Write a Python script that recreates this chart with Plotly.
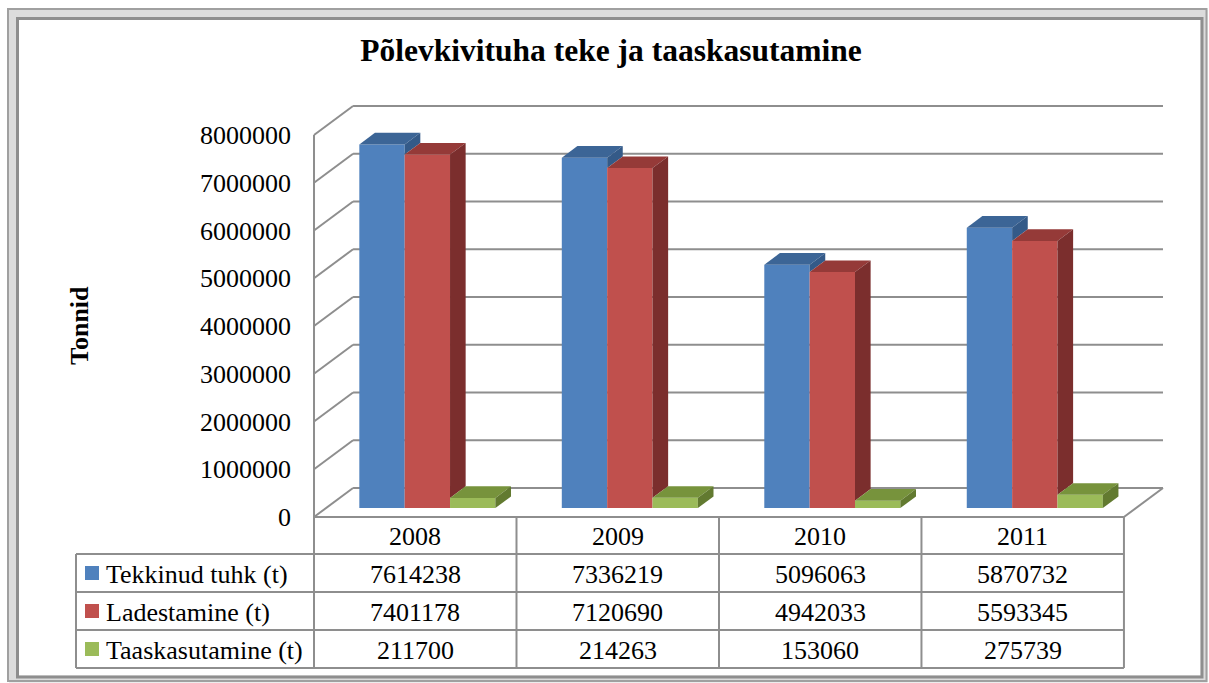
import plotly.graph_objects as go

# ---------------- data ----------------
years = ["2008", "2009", "2010", "2011"]
series_names = ["Tekkinud tuhk (t)", "Ladestamine (t)", "Taaskasutamine (t)"]
tekkinud = [7614238, 7336219, 5096063, 5870732]
ladestamine = [7401178, 7120690, 4942033, 5593345]
taaskasutamine = [211700, 214263, 153060, 275739]
y_ticks = [0, 1000000, 2000000, 3000000, 4000000, 5000000, 6000000, 7000000, 8000000]
chart_title = "Põlevkivituha teke ja taaskasutamine"
y_title = "Tonnid"

series_values = [tekkinud, ladestamine, taaskasutamine]

# ---------------- styles ----------------
FONT = "Liberation Serif"
front_colors = ["#4F81BD", "#C0504D", "#9BBB59"]
top_colors = ["#3C6596", "#953A38", "#77933C"]
side_colors = ["#345A88", "#7B2E2D", "#627A30"]
GRID = "#8E8E8E"

W, H = 1209, 683
# pixel geometry of the pseudo-3D box
PX_PER_CAT = 202.25
PX_PER_VAL = 47.75e-6
PAD = 6
DX = 39 / PX_PER_CAT          # depth shift in x units
DY = 29 / PX_PER_VAL          # depth shift in value units
F0 = 0.31                     # depth position of bar fronts
FB = 0.40                     # bar depth fraction
GROUP = 0.672
BW = GROUP / 3
ncat = len(years)
xpad = PAD / PX_PER_CAT
ypad = PAD / PX_PER_VAL
xr = [-xpad, ncat + DX + xpad]
yr = [-ypad, y_ticks[-1] + DY + ypad]

ML, MR, MT, MB = 314 - PAD, W - 1163 - PAD, 106 - PAD, H - 517 - PAD
PW, PH = W - ML - MR, H - MT - MB


def pxx(px):
    return (px - ML) / PW


def pxy(py):
    return (H - MB - py) / PH


def datx_to_paper(xd):
    return (xd - xr[0]) / (xr[1] - xr[0])


fig = go.Figure()

# ---------------- back wall / floor gridlines (shapes below traces) ----------------
shapes = []
gl = dict(color=GRID, width=2)
for v in y_ticks:
    shapes.append(dict(type="line", xref="x", yref="y", x0=DX, y0=v + DY, x1=ncat + DX, y1=v + DY,
                       line=gl, layer="below"))
    shapes.append(dict(type="line", xref="x", yref="y", x0=0, y0=v, x1=DX, y1=v + DY,
                       line=gl, layer="below"))
shapes.append(dict(type="line", xref="x", yref="y", x0=0, y0=0, x1=0, y1=y_ticks[-1], line=gl, layer="below"))
shapes.append(dict(type="line", xref="x", yref="y", x0=0, y0=0, x1=ncat, y1=0, line=gl, layer="below"))
shapes.append(dict(type="line", xref="x", yref="y", x0=ncat, y0=0, x1=ncat + DX, y1=DY, line=gl, layer="below"))

# ---------------- bars: fronts with go.Bar ----------------
base = F0 * DY
ddx, ddy = FB * DX, FB * DY
for j, (name, vals) in enumerate(zip(series_names, series_values)):
    xs = [i + 0.5 + F0 * DX + (j - 1) * BW for i in range(ncat)]
    fig.add_trace(go.Bar(x=xs, y=vals, base=[base] * ncat, width=BW, name=name,
                         marker=dict(color=front_colors[j], line=dict(width=0)),
                         showlegend=False, hoverinfo="skip"))

# ---------------- bars: top and side faces ----------------
for i in range(ncat):
    for j, vals in enumerate(series_values):
        xc = i + 0.5 + F0 * DX + (j - 1) * BW
        left, right = xc - BW / 2, xc + BW / 2
        top = base + vals[i]
        fig.add_trace(go.Scatter(
            x=[left, right, right + ddx, left + ddx, left],
            y=[top, top, top + ddy, top + ddy, top],
            mode="lines", fill="toself", fillcolor=top_colors[j], line=dict(width=0),
            showlegend=False, hoverinfo="skip"))
        if j + 1 < len(series_values):
            bot = max(base, base + series_values[j + 1][i])
        else:
            bot = base
        if bot < top:
            fig.add_trace(go.Scatter(
                x=[right, right, right + ddx, right + ddx, right],
                y=[bot, top, top + ddy, bot + ddy, bot],
                mode="lines", fill="toself", fillcolor=side_colors[j], line=dict(width=0),
                showlegend=False, hoverinfo="skip"))

# ---------------- data table ----------------
tl = dict(color=GRID, width=2)
row_edges = [517, 554, 592, 630, 668]
table_left = 76
for k, ry in enumerate(row_edges[1:]):
    shapes.append(dict(type="line", xref="paper", yref="paper", x0=pxx(table_left), x1=datx_to_paper(ncat),
                       y0=pxy(ry), y1=pxy(ry), line=tl))
shapes.append(dict(type="line", xref="paper", yref="paper", x0=pxx(table_left), x1=pxx(table_left),
                   y0=pxy(row_edges[1]), y1=pxy(row_edges[-1]), line=tl))
for i in range(ncat + 1):
    shapes.append(dict(type="line", xref="paper", yref="paper", x0=datx_to_paper(i), x1=datx_to_paper(i),
                       y0=pxy(row_edges[0]), y1=pxy(row_edges[-1]), line=tl))

annotations = []
tf = dict(family=FONT, size=26, color="black")
for i, yv in enumerate(years):
    annotations.append(dict(x=i + 0.5, xref="x", y=pxy((row_edges[0] + row_edges[1]) / 2 + 1), yref="paper",
                            text=yv, showarrow=False, font=tf, xanchor="center", yanchor="middle"))
for j, (name, vals) in enumerate(zip(series_names, series_values)):
    cy = (row_edges[j + 1] + row_edges[j + 2]) / 2
    for i, v in enumerate(vals):
        annotations.append(dict(x=i + 0.5, xref="x", y=pxy(cy + 1), yref="paper", text=str(v),
                                showarrow=False, font=tf, xanchor="center", yanchor="middle"))
    annotations.append(dict(x=pxx(104), xref="paper", y=pxy(cy + 1), yref="paper", text=name,
                            showarrow=False, font=tf, xanchor="left", yanchor="middle"))
    shapes.append(dict(type="rect", xref="paper", yref="paper", x0=pxx(85), x1=pxx(99),
                       y0=pxy(cy - 7), y1=pxy(cy + 7), fillcolor=front_colors[j], line=dict(width=0)))

# y-axis title
annotations.append(dict(x=pxx(79), xref="paper", y=pxy(326), yref="paper", text="<b>" + y_title + "</b>",
                        textangle=-90, showarrow=False, font=dict(family=FONT, size=26, color="black"),
                        xanchor="center", yanchor="middle"))

# outer bevelled frame
shapes.append(dict(type="rect", xref="paper", yref="paper", x0=pxx(12.5), x1=pxx(1204), y0=pxy(13.5), y1=pxy(679),
                   line=dict(color="#DCDCDC", width=7)))
shapes.append(dict(type="rect", xref="paper", yref="paper", x0=pxx(8), x1=pxx(1206.5), y0=pxy(9), y1=pxy(681),
                   line=dict(color="#A0A0A0", width=2)))
shapes.append(dict(type="rect", xref="paper", yref="paper", x0=pxx(17.5), x1=pxx(1202), y0=pxy(18.5), y1=pxy(677),
                   line=dict(color="#8E8E8E", width=3)))

fig.update_layout(
    width=W, height=H,
    margin=dict(l=ML, r=MR, t=MT, b=MB, pad=0),
    paper_bgcolor="white", plot_bgcolor="white",
    barmode="overlay",
    title=dict(text="<b>" + chart_title + "</b>", x=611 / W, xref="container", xanchor="center",
               y=1 - 50 / H, yref="container", yanchor="middle",
               font=dict(family=FONT, size=31.5, color="black")),
    xaxis=dict(range=xr, visible=False, fixedrange=True),
    yaxis=dict(range=yr, tickvals=y_ticks, ticktext=[str(v) for v in y_ticks], showgrid=False,
               zeroline=False, showline=False, ticks="", ticklabelstandoff=16,
               tickfont=dict(family=FONT, size=26, color="black"), fixedrange=True),
    shapes=shapes,
    annotations=annotations,
    showlegend=False,
)

fig.write_html("out.html", config={"displayModeBar": False},
               post_script="document.body.style.margin='0';document.body.style.overflow='hidden';")
